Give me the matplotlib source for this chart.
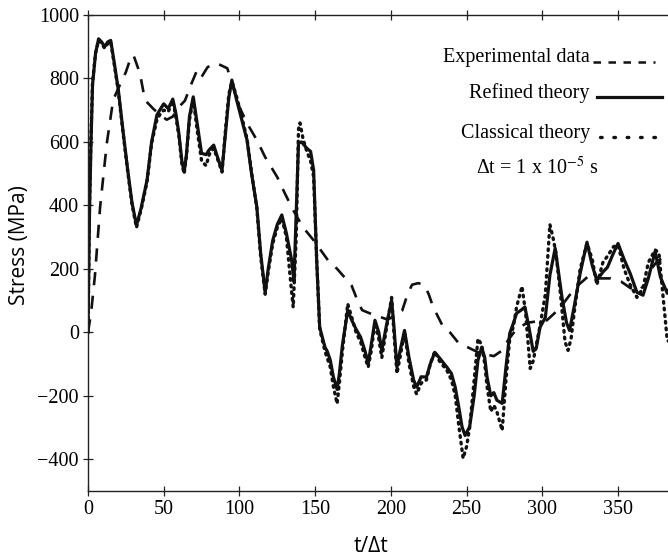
import matplotlib
matplotlib.use("Agg")
import matplotlib.pyplot as plt

# refined theory (solid)
ref_t = [0, 1, 2, 3, 5, 7, 9, 11, 13, 15, 17, 20, 23, 26, 29, 32, 35, 39, 42, 45.5,
         48, 50, 53, 56, 58, 60, 62, 63.5, 65, 67, 69.5, 72, 75, 78, 80, 83, 86, 88.5,
         91, 93, 95, 98, 101, 105, 108, 111.5, 114, 117, 119, 122, 125, 128, 131,
         134.5, 136, 137.5, 139, 141, 144.5, 147, 149, 151, 153, 156.5, 158, 160,
         162, 164.5, 166, 168, 171.5, 174, 177, 180, 183, 185, 187, 189.5, 192, 194,
         197, 200.5, 202, 204, 206, 209, 212, 215, 217, 220, 223.5, 226, 229, 232,
         237, 240, 242.5, 245, 247, 249, 252, 255, 257.5, 260, 262, 263.5, 266, 268,
         270, 273.5, 276, 278.5, 281, 283, 286, 288.5, 291, 294, 296, 298.5, 302,
         305, 308.5, 311, 313, 316, 318, 321, 325, 329.5, 333, 336, 340, 343, 347,
         350, 354, 358, 362.5, 366.5, 370, 374.5, 378, 382.5, 385]
ref_s = [0, 380, 600, 780, 880, 925, 915, 900, 915, 920, 860, 765, 640, 520, 410, 337,
         390, 480, 600, 685, 705, 720, 705, 735, 690, 627, 540, 505, 560, 680, 742,
         660, 564, 560, 575, 590, 545, 511, 640, 740, 795, 735, 680, 606, 500, 395,
         250, 125, 200, 290, 340, 370, 312, 227, 160, 380, 596, 600, 580, 570, 511,
         227, 16, -47, -60, -88, -140, -180, -130, -40, 69, 40, 10, -15, -60, -98,
         -40, 38, 0, -57, 20, 101, 20, -110, -60, 6, -80, -150, -173, -140, -141,
         -100, -63, -80, -110, -130, -173, -240, -298, -325, -298, -200, -88, -47,
         -80, -141, -200, -190, -214, -224, -110, -3, 30, 60, 70, 80, 20, -60, -50,
         16, 47, 180, 265, 180, 110, 30, 6, 80, 186, 284, 210, 164, 190, 205, 250,
         280, 230, 186, 126, 117, 170, 255, 174, 123, 150]

# experimental data (dashed)
exp_t = [0, 2, 4.6, 8, 12.4, 16.6, 21, 25, 27.7, 30, 34.3, 37.6, 43, 47.6, 52, 56,
         60, 64, 68, 72, 75, 79, 85, 92, 96, 100, 105, 111.5, 117, 125, 130, 135.5,
         142, 149, 158.5, 164.5, 170, 174, 178, 181, 186, 192, 198, 203, 207.5, 211,
         214, 218, 222, 225, 228, 234, 239, 244.4, 252, 257.6, 263, 268, 273.5, 278,
         283, 290, 297, 303, 308, 312, 318, 324, 330, 338, 345, 352, 358, 363, 368,
         372, 376, 380, 385]
exp_s = [0, 60, 180, 395, 595, 732, 779, 820, 858, 874, 816, 732, 705, 685, 670, 680,
         710, 730, 780, 826, 805, 836, 848, 832, 770, 710, 659, 606, 552, 489, 438,
         385, 331, 290, 227, 200, 170, 148, 100, 70, 60, 50, 40, 55, 69, 120, 150,
         155, 150, 120, 79, 22, 0, -32, -50, -63, -70, -75, -57, -20, 10, 30, 35,
         38, 60, 79, 117, 150, 175, 170, 170, 160, 140, 130, 150, 200, 225, 235, 240]

# classical theory (dotted)
cla_t = [0, 1, 2, 3, 5, 7, 9, 11, 13, 15, 17, 20, 23, 26, 29, 32, 35, 39, 42, 45.5,
         48, 50, 53, 56, 58, 60, 62, 63.5, 65, 67, 69.5, 72, 75, 78, 80, 83, 86, 88.5,
         91, 93, 95, 98, 101, 105, 108, 111.5, 114, 117, 119, 122, 125, 128, 131, 134,
         135.5, 137.5, 139, 140, 142, 144.5, 147, 149, 151, 153, 156.5, 160, 162,
         164.5, 166, 168, 171.5, 174, 177, 180, 183, 185, 187, 189.5, 192, 194, 197,
         200.5, 202, 204, 206, 209, 212, 215, 217, 220, 223.5, 226, 229, 232, 237,
         240, 242.5, 245, 247.7, 250, 252, 255, 257.5, 260, 262, 263.5, 266, 268, 270,
         273.5, 276, 278.5, 281, 283, 286.6, 289, 292, 294, 296, 298.5, 302, 305, 307,
         309, 312, 315, 317, 319, 321, 325, 329.5, 333, 336, 340, 343, 347, 350, 354,
         358, 362.5, 366.5, 370, 374.5, 377, 380, 382.5, 384]
cla_s = [0, 400, 620, 790, 880, 920, 910, 895, 910, 915, 855, 760, 635, 515, 405, 330,
         385, 475, 595, 670, 690, 700, 695, 730, 680, 620, 530, 500, 555, 670, 735,
         640, 540, 525, 560, 580, 540, 505, 650, 750, 790, 745, 690, 610, 505, 390,
         240, 120, 190, 280, 330, 360, 300, 150, 79, 300, 640, 660, 610, 570, 540,
         490, 230, 10, -60, -110, -170, -225, -160, -60, 90, 50, 0, -30, -80, -110,
         -60, 30, -20, -80, 10, 110, 0, -130, -80, 0, -100, -170, -195, -160, -150,
         -100, -60, -90, -120, -150, -200, -300, -397, -360, -300, -150, -20, -40,
         -100, -170, -250, -230, -250, -309, -150, -20, 20, 80, 145, 60, -114, -90,
         -40, 20, 120, 340, 300, 250, 120, -30, -57, -20, 60, 200, 280, 230, 150, 220,
         240, 270, 275, 200, 150, 110, 140, 220, 260, 250, 100, -25, -30]

x_ticks = [0, 50, 100, 150, 200, 250, 300, 350]
y_ticks = [-400, -200, 0, 200, 400, 600, 800, 1000]

plt.rcParams["mathtext.fontset"] = "stix"
SERIF = "Liberation Serif"
SANS = "Open Sans"
INK = "#111111"
W, H = 668, 558

fig = plt.figure(figsize=(W / 100, H / 100), dpi=100)
ax = fig.add_axes([88 / W, 67 / H, 580 / W, 476 / H])

ax.plot(exp_t, exp_s, color=INK, lw=1.9, dashes=(5, 4))
ax.plot(cla_t, cla_s, color=INK, lw=2.4, linestyle=(0, (0.5, 1.5)),
        dash_capstyle="round")
ax.plot(ref_t, ref_s, color=INK, lw=2.3)

ax.set_xlim(0, 383)
ax.set_ylim(-500, 1000)
ax.set_xticks(x_ticks)
ax.set_yticks(y_ticks)
ax.spines["right"].set_visible(False)
for s in ("left", "top", "bottom"):
    ax.spines[s].set_linewidth(1.0)
    ax.spines[s].set_color("#222222")
ax.tick_params(direction="inout", length=7, width=0.9, top=True, color="#222222",
               labelsize=14.5, pad=3)
for lab in ax.get_xticklabels() + ax.get_yticklabels():
    lab.set_fontfamily(SERIF)

# axis titles placed at the reference positions (pixels from top-left)
fig.text(20 / W, 1 - 245 / H, "Stress (MPa)", rotation=90, ha="center",
         va="center", fontfamily=SANS, fontsize=15)
fig.text(371 / W, 1 - 546 / H, "t/\u0394t", ha="center", va="center",
         fontfamily=SANS, fontsize=15)

# legend drawn the way the original figure lays it out
tr = ax.transAxes
fs = 14.5
ax.text(0.8655, 0.9097, "Experimental data", transform=tr, ha="right", va="center",
        fontfamily=SERIF, fontsize=fs)
ax.plot([0.8707, 0.9776], [0.901, 0.901], transform=tr, color=INK, lw=1.8,
        dashes=(3, 3), clip_on=False)
ax.text(0.8655, 0.836, "Refined theory", transform=tr, ha="right", va="center",
        fontfamily=SERIF, fontsize=fs)
ax.plot([0.8776, 0.9897], [0.8277, 0.8277], transform=tr, color=INK, lw=2.3,
        clip_on=False)
ax.text(0.8655, 0.752, "Classical theory", transform=tr, ha="right", va="center",
        fontfamily=SERIF, fontsize=fs)
ax.plot([0.8828, 0.986], [0.7437, 0.7437], transform=tr, color=INK, lw=2.4,
        linestyle=(0, (0.5, 3.5)), dash_capstyle="round", clip_on=False)
ax.text(0.774, 0.6786, "\u0394t = 1 x 10$^{-5}$ s", transform=tr, ha="center",
        va="center", fontfamily=SERIF, fontsize=fs)

fig.savefig("out.png", dpi=100)
